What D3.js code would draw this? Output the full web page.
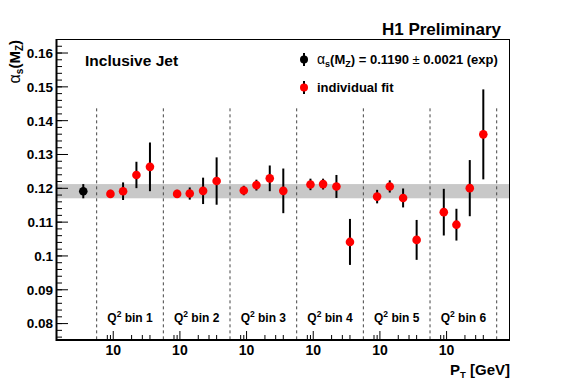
<!DOCTYPE html>
<html><head><meta charset="utf-8">
<script src="https://cdn.jsdelivr.net/npm/d3@7"></script>
<style>
html,body{margin:0;padding:0;background:#fff;}
text{font-family:"Liberation Sans",Arial,Helvetica,sans-serif;font-weight:bold;fill:#000;}
</style></head>
<body><svg id="chart" width="567" height="391"></svg>
<script>
// ---- data ----
const categories = ["Q² bin 1","Q² bin 2","Q² bin 3","Q² bin 4","Q² bin 5","Q² bin 6"];
const ptValues = [9, 14.5, 24, 40];
const bin1Alpha = [0.1182, 0.1190, 0.1238, 0.1262];
const bin1Err   = [0.0012, 0.0026, 0.0039, 0.0072];
const bin2Alpha = [0.1182, 0.1183, 0.1191, 0.1220];
const bin2Err   = [0.0012, 0.0018, 0.0039, 0.0070];
const bin3Alpha = [0.1192, 0.1208, 0.1228, 0.1191];
const bin3Err   = [0.0014, 0.0016, 0.0038, 0.0066];
const bin4Alpha = [0.1210, 0.1211, 0.1204, 0.1040];
const bin4Err   = [0.0017, 0.0016, 0.0034, 0.0068];
const bin5Alpha = [0.1174, 0.1204, 0.1170, 0.1046];
const bin5Err   = [0.0020, 0.0018, 0.0028, 0.0059];
const bin6Alpha = [0.1128, 0.1091, 0.1199, 0.1358];
const bin6Err   = [0.0069, 0.0047, 0.0083, 0.0133];
const combinedAlpha = 0.1190;
const combinedErr = 0.0021;
const combinedPt = 40;
const yTickLabels = ["0.08","0.09","0.1","0.11","0.12","0.13","0.14","0.15","0.16"];
const xTickValues = [8, 9, 10, 20, 30, 40];
const xTickLabels = ["10"];

const binAlpha = [bin1Alpha, bin2Alpha, bin3Alpha, bin4Alpha, bin5Alpha, bin6Alpha];
const binErr = [bin1Err, bin2Err, bin3Err, bin4Err, bin5Err, bin6Err];

// ---- layout ----
const svg = d3.select("#chart");
const L = 56, R = 510, T = 39, B = 340;
const binW = 66.67;
const y = d3.scaleLinear().domain([0.075, 0.164]).range([B, T]);
const binX = d3.scaleLinear().domain([0, 7]).range([30, 30 + 7 * binW]);
const ptX = d3.scaleLog().domain([5.35, 66.3]).range([0, binW]);
const xPos = (bin, pt) => binX(bin) + ptX(pt);

// band
svg.append("rect").attr("x", L).attr("width", R - L)
  .attr("y", y(combinedAlpha + combinedErr))
  .attr("height", y(combinedAlpha - combinedErr) - y(combinedAlpha + combinedErr))
  .attr("fill", "#c8c8c8");

// dashed separators
for (let k = 1; k <= 7; k++) {
  svg.append("line").attr("x1", binX(k)).attr("x2", binX(k))
    .attr("y1", y(0.1435)).attr("y2", B)
    .attr("stroke", "#444").attr("stroke-width", 1).attr("stroke-dasharray", "3,3");
}

// frame
svg.append("line").attr("x1", L).attr("x2", R).attr("y1", T + 0.5).attr("y2", T + 0.5).attr("stroke", "#000").attr("stroke-width", 1);
svg.append("line").attr("x1", R - 0.5).attr("x2", R - 0.5).attr("y1", T).attr("y2", B).attr("stroke", "#000").attr("stroke-width", 1);

// y axis
const yAxisMinor = d3.axisLeft(y).tickValues(d3.range(76, 165, 2).map(d => d / 1000)).tickSize(-6).tickFormat("");
svg.append("g").attr("transform", `translate(${L},0)`).call(yAxisMinor)
  .call(g => g.select(".domain").remove())
  .call(g => g.selectAll("line").attr("stroke", "#000").attr("stroke-width", 1));
const yAxisMajor = d3.axisLeft(y).tickValues(yTickLabels.map(Number)).tickSize(-12)
  .tickFormat((d, i) => yTickLabels[i]).tickPadding(3);
svg.append("g").attr("transform", `translate(${L},0)`).call(yAxisMajor)
  .call(g => g.select(".domain").remove())
  .call(g => g.selectAll("line").attr("stroke", "#000").attr("stroke-width", 1))
  .call(g => g.selectAll("text").attr("font-size", 13.5).attr("font-family", null).attr("dy", "0.36em"));
svg.append("line").attr("x1", L + 0.5).attr("x2", L + 0.5).attr("y1", T).attr("y2", B + 1).attr("stroke", "#000").attr("stroke-width", 2);

// x axis per bin
for (let b = 1; b <= 6; b++) {
  const g = svg.append("g");
  xTickValues.forEach(v => {
    const len = v === 10 ? 9 : 5;
    g.append("line").attr("x1", xPos(b, v)).attr("x2", xPos(b, v))
      .attr("y1", B).attr("y2", B - len).attr("stroke", "#000").attr("stroke-width", 1);
  });
  xTickLabels.forEach(lbl => {
    g.append("text").attr("x", xPos(b, +lbl)).attr("y", B + 15).attr("text-anchor", "middle")
      .attr("font-size", 14).text(lbl);
  });
  const lbl = categories[b - 1];
  const t = g.append("text").attr("x", binX(b) + binW / 2).attr("y", 322).attr("text-anchor", "middle").attr("font-size", 12);
  t.append("tspan").text("Q");
  t.append("tspan").attr("dy", -5).attr("font-size", 8.5).text("2");
  t.append("tspan").attr("dy", 5).text(lbl.replace("Q² ", " "));
}
svg.append("line").attr("x1", L).attr("x2", R).attr("y1", B).attr("y2", B).attr("stroke", "#000").attr("stroke-width", 2);

// points
function drawPoint(xp, v, e, color) {
  svg.append("line").attr("x1", xp).attr("x2", xp).attr("y1", y(v - e)).attr("y2", y(v + e))
    .attr("stroke", "#000").attr("stroke-width", 2);
  svg.append("circle").attr("cx", xp).attr("cy", y(v)).attr("r", 4.3).attr("fill", color);
}
drawPoint(xPos(0, combinedPt), combinedAlpha, combinedErr, "#000");
binAlpha.forEach((arr, i) => arr.forEach((v, j) => drawPoint(xPos(i + 1, ptValues[j]), v, binErr[i][j], "#ff0000")));

// titles
svg.append("text").attr("x", 501).attr("y", 35).attr("text-anchor", "end").attr("font-size", 17).text("H1 Preliminary");
svg.append("text").attr("x", 85).attr("y", 66).attr("font-size", 15.5).text("Inclusive Jet");

// legend
function legendMarker(yy, color) {
  svg.append("line").attr("x1", 304).attr("x2", 304).attr("y1", yy - 6.5).attr("y2", yy + 6.5).attr("stroke", "#000").attr("stroke-width", 2);
  svg.append("circle").attr("cx", 304).attr("cy", yy).attr("r", 4).attr("fill", color);
}
legendMarker(59.5, "#000");
legendMarker(87.5, "#ff0000");
const lt = svg.append("text").attr("x", 317).attr("y", 64).attr("font-size", 13);
lt.append("tspan").attr("font-weight", "normal").attr("font-size", 14).text("α");
lt.append("tspan").attr("dy", 3).attr("font-size", 9).text("s");
lt.append("tspan").attr("dy", -3).text("(M");
lt.append("tspan").attr("dy", 3).attr("font-size", 9).text("Z");
lt.append("tspan").attr("dy", -3).text(") = 0.1190 ");
lt.append("tspan").attr("font-weight", "normal").text("±");
lt.append("tspan").text(" 0.0021 (exp)");
svg.append("text").attr("x", 317).attr("y", 92).attr("font-size", 13).text("individual fit");

// y axis title
const yt = svg.append("text").attr("transform", "translate(20,40) rotate(-90)").attr("text-anchor", "end").attr("font-size", 15);
yt.append("tspan").attr("font-weight", "normal").attr("font-size", 16).text("α");
yt.append("tspan").attr("dy", 3).attr("font-size", 10).text("s");
yt.append("tspan").attr("dy", -3).text("(M");
yt.append("tspan").attr("dy", 3).attr("font-size", 10).text("Z");
yt.append("tspan").attr("dy", -3).text(")");

// x axis title
const xt = svg.append("text").attr("x", 510).attr("y", 375).attr("text-anchor", "end").attr("font-size", 15);
xt.append("tspan").text("P");
xt.append("tspan").attr("dy", 3).attr("font-size", 9.5).text("T");
xt.append("tspan").attr("dy", -3).text(" [GeV]");
</script></body></html>
